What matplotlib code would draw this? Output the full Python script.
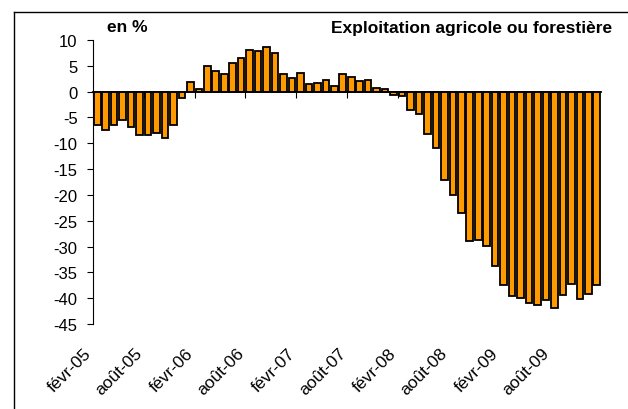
import numpy as np
import matplotlib.pyplot as plt
import matplotlib.transforms as mtransforms
from matplotlib.lines import Line2D

plt.rcParams['font.family'] = ['Liberation Sans', 'DejaVu Sans']

# monthly values, févr-05 .. janv-10 (en %)
values = [-6.4, -7.5, -6.4, -5.4, -6.8, -8.4, -8.4, -8.0, -8.9, -6.4,
          -1.3, 1.9, 0.6, 5.0, 3.9, 3.4, 5.6, 6.5, 8.1, 7.8,
          8.6, 7.5, 3.4, 2.6, 3.7, 1.5, 1.7, 2.3, 1.0, 3.4,
          2.9, 2.1, 2.3, 0.8, 0.5, -0.6, -0.8, -3.5, -4.4, -8.2,
          -11.0, -17.1, -20.0, -23.5, -29.0, -28.7, -29.9, -33.8, -37.4, -39.5,
          -39.9, -40.9, -41.3, -40.3, -41.9, -39.4, -37.2, -40.1, -39.2, -37.4]
tick_labels = ['févr-05', 'août-05', 'févr-06', 'août-06', 'févr-07',
               'août-07', 'févr-08', 'août-08', 'févr-09', 'août-09']
yticks = list(range(10, -50, -5))

fig = plt.figure(figsize=(6.28, 4.10), dpi=100)
# outer frame (only left and top edges are inside the picture)
fx, fy = 14.5 / 628, 1 - 12.5 / 410
fig.add_artist(Line2D([fx, fx], [0, fy], transform=fig.transFigure,
                      color='black', linewidth=1.0))
fig.add_artist(Line2D([fx, 1], [fy, fy], transform=fig.transFigure,
                      color='black', linewidth=1.0))

ax = fig.add_axes([93 / 628, 1 - 325 / 410, 508 / 628, 284 / 410])

x = np.arange(len(values))
ax.bar(x, values, width=0.78, color='#FF9900', edgecolor='black',
       linewidth=1.3, zorder=2)

ax.set_xlim(-0.5, len(values) - 0.5)
ax.set_ylim(-45, 10)
ax.set_yticks(yticks)
ax.set_yticklabels([str(v) for v in yticks], fontsize=12)
ax.tick_params(axis='y', direction='out', length=4, width=0.8, pad=7)

for s in ['top', 'right']:
    ax.spines[s].set_visible(False)
ax.spines['left'].set_linewidth(0.8)
ax.spines['bottom'].set_position(('data', 0))
ax.spines['bottom'].set_linewidth(1.3)
ax.spines['bottom'].set_zorder(3)

bounds = np.arange(0, len(values), 6) - 0.5
ax.set_xticks(bounds)
ax.set_xticklabels([])
ax.tick_params(axis='x', direction='out', length=4, width=0.8)

sec = ax.secondary_xaxis(0)
sec.spines['bottom'].set_visible(False)
sec.set_xticks(bounds)
sec.set_xticklabels(tick_labels, fontsize=12.5, rotation=45,
                    ha='right', va='top', rotation_mode='anchor')
sec.tick_params(axis='x', length=0, pad=15)
off = mtransforms.ScaledTranslation(-9 / 100, 0, fig.dpi_scale_trans)
for lbl in sec.get_xticklabels():
    lbl.set_transform(lbl.get_transform() + off)

fig.text(107 / 628, 1 - 28 / 410, 'en %', fontsize=12.5, fontweight='bold',
         va='center', ha='left')
fig.text(612 / 628, 1 - 29 / 410, 'Exploitation agricole ou forestière',
         fontsize=12.5, fontweight='bold', va='center', ha='right')

fig.savefig('out.png', dpi=100)
